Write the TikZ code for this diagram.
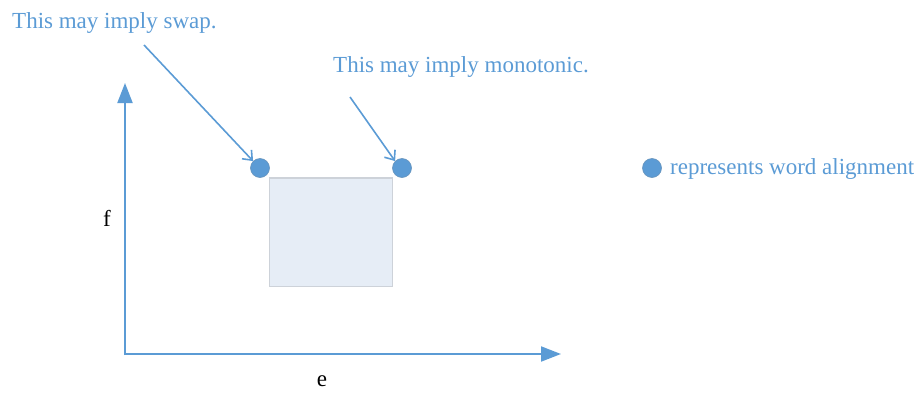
\documentclass[tikz,border=0pt]{standalone}
\usepackage{fontspec}
\setmainfont{Liberation Serif}
\usetikzlibrary{arrows.meta}
\definecolor{axisblue}{HTML}{5B9BD5}
\definecolor{textblue}{HTML}{5B9BD5}
\definecolor{boxfill}{HTML}{E6EDF6}
\definecolor{boxline}{HTML}{CDD2D9}
\tikzset{
  lbl/.style={font=\fontsize{23}{27}\selectfont, text=textblue, inner sep=0pt, anchor=base west},
  axislbl/.style={font=\fontsize{23}{27}\selectfont, text=black, inner sep=0pt},
  axisline/.style={draw=axisblue, line width=2pt, -{Triangle[length=20pt,width=15pt]}},
  callout/.style={draw=axisblue, line width=1.6pt, -{Straight Barb[length=8pt,width=13pt]}},
  wdot/.style={circle, fill=axisblue, draw=axisblue!70!gray, line width=0.6pt, minimum size=19pt, inner sep=0pt},
  region/.style={draw=boxline, fill=boxfill, line width=1.2pt}
}
\begin{document}
\begin{tikzpicture}[x=1pt,y=-1pt]
\useasboundingbox (0,0) rectangle (922,394);
% axes
\coordinate (o) at (125,354);
\coordinate (ytip) at (125,83);
\coordinate (xtip) at (561,354);
\draw[axisline] (125,355) -- (ytip);
\draw[axisline] (124,354) -- (xtip);
\node[axislbl] (e) at (322,381) {e};
\node[axislbl] (f) at (107,218) {f};
% region
\draw[region] (269.5,178) rectangle (392.5,286.5);
% dots
\node[wdot] (d1) at (260,168) {};
\node[wdot] (d2) at (402,168) {};
\node[wdot] (d3) at (652,168) {};
% labels
\node[lbl] (t1) at (12,28) {This may imply swap.};
\node[lbl] (t2) at (333,72) {This may imply monotonic.};
\node[lbl] (t3) at (670,174) {represents word alignment};
% callouts
\coordinate (c1) at (144,45);
\coordinate (c2) at (350,97);
\draw[callout] (c1) -- (d1.north west);
\draw[callout] (c2) -- (d2.north west);
\end{tikzpicture}
\end{document}
